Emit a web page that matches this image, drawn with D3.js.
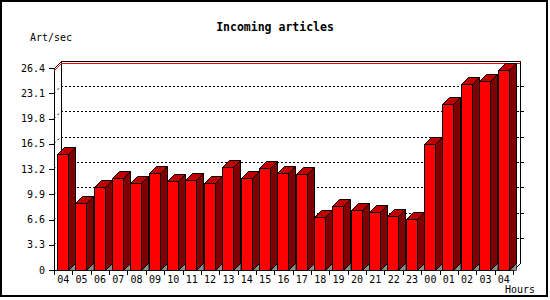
<!DOCTYPE html>
<html><head><meta charset="utf-8">
<script src="https://cdn.jsdelivr.net/npm/d3@7"></script>
<style>
html,body{margin:0;padding:0;background:#fff;}
svg{display:block;}
text{font-family:"DejaVu Sans Mono",monospace;font-size:10px;fill:#000;}
</style></head><body>
<svg id="c" width="550" height="300"></svg>
<script>
const hours = ["04","05","06","07","08","09","10","11","12","13","14","15","16","17","18","19","20","21","22","23","00","01","02","03","04"];
const values = [15.1, 8.7, 10.8, 12.0, 11.4, 12.7, 11.6, 11.7, 11.4, 13.4, 12.0, 13.3, 12.7, 12.6, 6.9, 8.3, 7.9, 7.6, 7.1, 6.7, 16.5, 21.7, 24.3, 24.7, 26.2];
const yTicks = [0, 3.3, 6.6, 9.9, 13.2, 16.5, 19.8, 23.1, 26.4];
const yTickLabels = ["0","3.3","6.6","9.9","13.2","16.5","19.8","23.1","26.4"];
const title = "Incoming articles";
const yTitle = "Art/sec";
const xTitle = "Hours";

const svg = d3.select("#c");
const L = 54, R = 513, B = 270, T = 68, DX = 7, DY = -7;
const x = d3.scaleBand().domain(d3.range(hours.length)).range([L, R]);
const y = d3.scaleLinear().domain([0, 26.4]).range([B, T]);
const bw = x.bandwidth();

// outer frame
svg.append("rect").attr("x",1).attr("y",1).attr("width",546).attr("height",295)
  .attr("fill","none").attr("stroke","#000").attr("stroke-width",2);

// titles
svg.append("text").attr("x",275).attr("y",31).attr("text-anchor","middle")
  .style("font-size","11.5px").style("font-weight","bold").text(title);
svg.append("text").attr("x",30).attr("y",41).text(yTitle);
svg.append("text").attr("x",505).attr("y",293).text(xTitle);

const g = svg.append("g").attr("shape-rendering","crispEdges");

// gridlines on back plane
yTicks.slice(1, -1).forEach(v => {
  g.append("line").attr("x1", L+DX).attr("x2", R+DX)
    .attr("y1", Math.round(y(v)+DY)+0.5).attr("y2", Math.round(y(v)+DY)+0.5)
    .attr("stroke","#000").attr("stroke-dasharray","2,2");
  g.append("line").attr("x1", R+DX).attr("x2", R+DX+4)
    .attr("y1", Math.round(y(v)+DY)+0.5).attr("y2", Math.round(y(v)+DY)+0.5)
    .attr("stroke","#000");
  svg.append("line").attr("x1", L).attr("x2", L+DX)
    .attr("y1", y(v)).attr("y2", y(v)+DY)
    .attr("stroke","#000").attr("stroke-dasharray","2,3");
});

// back plane frame
const back = d3.path();
back.moveTo(L+DX+0.5, B+DY+0.5); back.lineTo(L+DX+0.5, T+DY+0.5);
back.lineTo(R+DX+0.5, T+DY+0.5); back.lineTo(R+DX+0.5, B+DY+0.5);
back.lineTo(R+0.5, B+0.5);
g.append("path").attr("d", back.toString()).attr("fill","none").attr("stroke","#000");
svg.append("line").attr("x1",L+0.5).attr("y1",T+0.5).attr("x2",L+DX+0.5).attr("y2",T+DY+0.5).attr("stroke","#000");

// max line (red)
const vmax = d3.max(values);
svg.append("path").attr("d", `M${L+0.5},${y(vmax)+1}L${L+DX+0.5},${y(vmax)+DY+1}L${R+DX},${y(vmax)+DY+1}`)
  .attr("fill","none").attr("stroke","#ff0000").attr("shape-rendering","crispEdges");

// bars
values.forEach((v, i) => {
  const x0 = Math.round(x(i) + bw*0.16) + 0.5;
  const x1 = x0 + Math.round(bw*0.6);
  const yt = Math.round(y(v)) + 0.5;
  const yb = B + 0.5;
  const bar = svg.append("g");
  bar.append("path").attr("d", `M${x1},${yb}L${x1+DX},${yb+DY}L${x1+DX},${yb}Z`)
    .attr("fill","#8c8c8c").attr("stroke","#000").attr("stroke-width",0.6);
  bar.append("path").attr("d", `M${x1},${yt}L${x1+DX},${yt+DY}L${x1+DX},${yb+DY}L${x1},${yb}Z`)
    .attr("fill","#800000").attr("stroke","#000").attr("stroke-linejoin","round");
  bar.append("path").attr("d", `M${x0},${yt}L${x0+DX},${yt+DY}L${x1+DX},${yt+DY}L${x1},${yt}Z`)
    .attr("fill","#c00000").attr("stroke","#000").attr("stroke-linejoin","round");
  bar.append("rect").attr("x", x0).attr("y", yt).attr("width", x1-x0).attr("height", yb-yt)
    .attr("fill","#ff0000").attr("stroke","#000");
});

// front axes
g.append("line").attr("x1",L+0.5).attr("x2",L+0.5).attr("y1",T).attr("y2",B+5).attr("stroke","#000");
g.append("line").attr("x1",L).attr("x2",R+1).attr("y1",B+0.5).attr("y2",B+0.5).attr("stroke","#000");

// y axis labels via d3 axis
const yAxis = d3.axisLeft(y).tickValues(yTicks).tickFormat((d,i) => yTickLabels[i]).tickSize(5).tickPadding(4).tickSizeOuter(0);
const ya = svg.append("g").attr("transform", `translate(${L},0)`).call(yAxis);
ya.select(".domain").remove();
ya.selectAll("text").style("font-family","DejaVu Sans Mono, monospace").style("font-size","10px");
ya.selectAll("line").attr("shape-rendering","crispEdges");

// x axis labels
const xAxis = d3.axisBottom(x).tickFormat(i => hours[i]).tickSize(0).tickPadding(6);
const xa = svg.append("g").attr("transform", `translate(0,${B})`).call(xAxis);
xa.select(".domain").remove();
xa.selectAll("text").style("font-family","DejaVu Sans Mono, monospace").style("font-size","10px");
d3.range(hours.length + 1).forEach(i => {
  const xx = Math.round(L + i*bw) + 0.5;
  g.append("line").attr("x1",xx).attr("x2",xx).attr("y1",B).attr("y2",B+5).attr("stroke","#000");
});
</script></body></html>
